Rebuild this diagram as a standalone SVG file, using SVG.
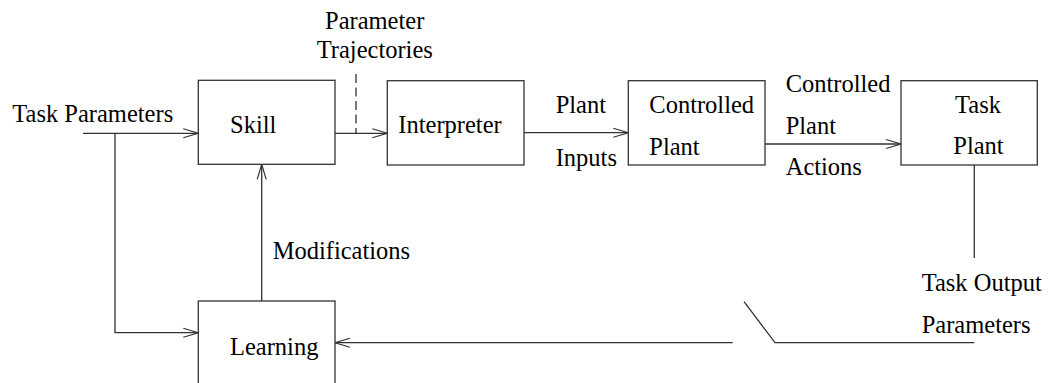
<svg xmlns="http://www.w3.org/2000/svg" width="1049" height="383" viewBox="0 0 1049 383">
<style>
.box{fill:#fff;stroke:#333;stroke-width:1.3}
.ln{fill:none;stroke:#333;stroke-width:1.3}
</style>
<defs>
<marker id="ar" markerUnits="userSpaceOnUse" markerWidth="17" markerHeight="11" refX="15" refY="4.5" orient="auto" overflow="visible">
<path d="M0,0 L15,4.5 L0,9" fill="none" stroke="#333" stroke-width="1.2"/>
</marker>
</defs>
<rect width="1049" height="383" fill="#fff"/>
<g id="connectors">
<path class="ln" d="M83,133.3 H198.3" marker-end="url(#ar)"/>
<path class="ln" d="M115,133.3 V332.7 H198.3" marker-end="url(#ar)"/>
<path class="ln" d="M335,133.3 H387.3" marker-end="url(#ar)"/>
<path class="ln" d="M356,74 V133" stroke-dasharray="9 4.5"/>
<path class="ln" d="M524,132.7 H628.3" marker-end="url(#ar)"/>
<path class="ln" d="M765,144 H901" marker-end="url(#ar)"/>
<path class="ln" d="M261.7,301 V164.3" marker-end="url(#ar)"/>
<path class="ln" d="M974.3,165 V258"/>
<path class="ln" d="M974.3,342.7 H775 L744,301.7"/>
<path class="ln" d="M732.7,342.7 H335" marker-end="url(#ar)"/>
</g>
<g id="labels">
<text font-family="Liberation Serif" font-size="24.5" x="12.3" y="122.3">Task Parameters</text>
<text font-family="Liberation Serif" font-size="24.5" x="325" y="29.3">Parameter</text>
<text font-family="Liberation Serif" font-size="24.5" x="316.7" y="58.3">Trajectories</text>
<text font-family="Liberation Serif" font-size="24.5" x="555.7" y="112.7">Plant</text>
<text font-family="Liberation Serif" font-size="24.5" x="555.7" y="166">Inputs</text>
<text font-family="Liberation Serif" font-size="24.5" x="785.7" y="91.7">Controlled</text>
<text font-family="Liberation Serif" font-size="24.5" x="785.7" y="134">Plant</text>
<text font-family="Liberation Serif" font-size="24.5" x="785.7" y="175">Actions</text>
<text font-family="Liberation Serif" font-size="24.5" x="272.7" y="259">Modifications</text>
<text font-family="Liberation Serif" font-size="24.5" x="921.7" y="290.7">Task Output</text>
<text font-family="Liberation Serif" font-size="24.5" x="921.7" y="333.3">Parameters</text>
</g>
<g id="skill">
<rect class="box" x="198.3" y="80.3" width="136.7" height="84"/>
<text font-family="Liberation Serif" font-size="24.5" x="230" y="132.7">Skill</text>
</g>
<g id="interpreter">
<rect class="box" x="387.3" y="80.7" width="136.7" height="84.3"/>
<text font-family="Liberation Serif" font-size="24.5" x="398.3" y="133.3">Interpreter</text>
</g>
<g id="controlled-plant">
<rect class="box" x="628.3" y="80.7" width="136.7" height="84.3"/>
<text font-family="Liberation Serif" font-size="24.5" x="649.3" y="112.7">Controlled</text>
<text font-family="Liberation Serif" font-size="24.5" x="649.3" y="155">Plant</text>
</g>
<g id="task-plant">
<rect class="box" x="901" y="80.7" width="136.3" height="84.3"/>
<text font-family="Liberation Serif" font-size="24.5" x="955" y="112.7">Task</text>
<text font-family="Liberation Serif" font-size="24.5" x="953.3" y="154.3">Plant</text>
</g>
<g id="learning">
<rect class="box" x="198.3" y="301" width="136.7" height="100"/>
<text font-family="Liberation Serif" font-size="24.5" x="230" y="355">Learning</text>
</g>
</svg>
